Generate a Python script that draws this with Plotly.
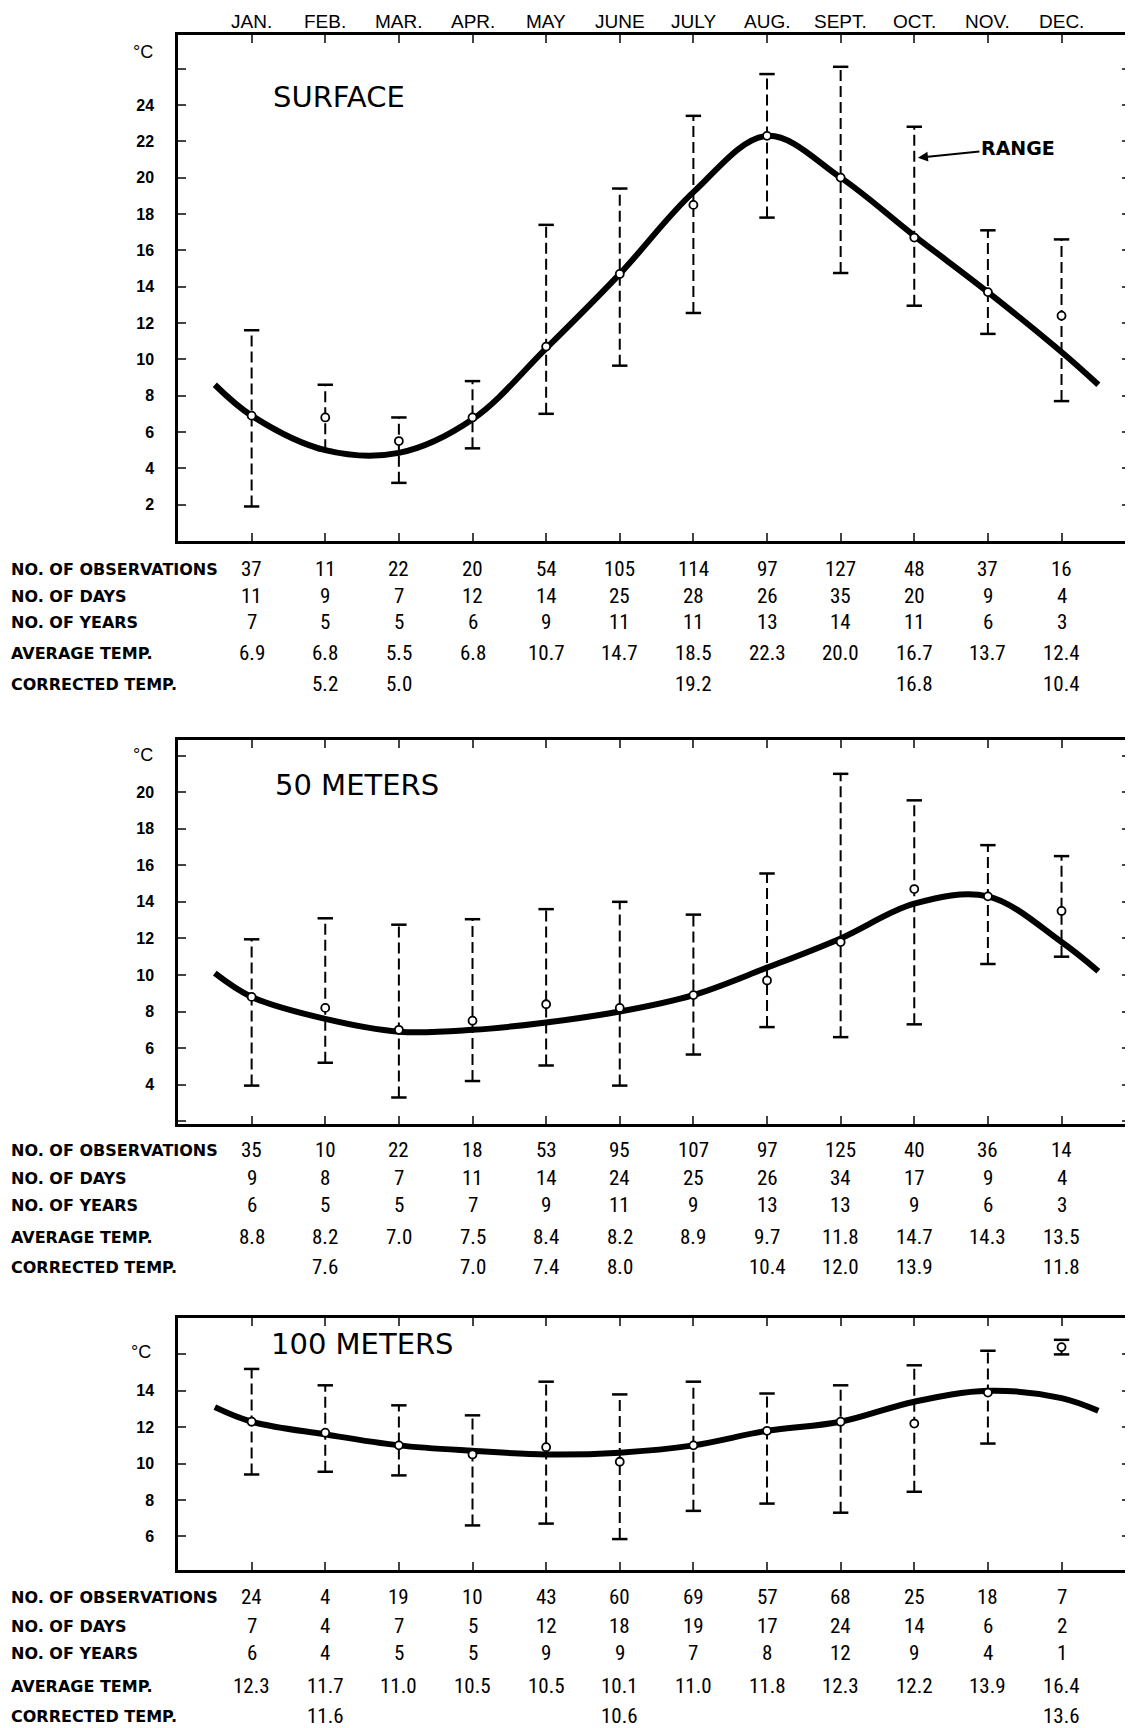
import plotly.graph_objects as go

# Page is 1133x1728; the HTML body adds an 8px margin, so the figure is laid out
# in page pixels and shifted by that margin.
PAGE_W, PAGE_H = 1133, 1728
OFF = 8
W, H = PAGE_W - OFF, PAGE_H - OFF

months = ["JAN.", "FEB.", "MAR.", "APR.", "MAY", "JUNE", "JULY", "AUG.", "SEPT.", "OCT.", "NOV.", "DEC."]
month_pos = [1, 2, 3, 4, 5, 6, 7, 8, 9, 10, 11, 12]
curve_x = [0.5, 1, 2, 3, 4, 5, 6, 7, 8, 9, 10, 11, 12, 12.5]

# ---------------- SURFACE ----------------
surf_mean = [6.9, 6.8, 5.5, 6.8, 10.7, 14.7, 18.5, 22.3, 20.0, 16.7, 13.7, 12.4]
surf_hi = [11.6, 8.6, 6.8, 8.8, 17.4, 19.4, 23.4, 25.7, 26.1, 22.8, 17.1, 16.6]
surf_lo = [1.9, 5.0, 3.2, 5.1, 7.0, 9.65, 12.55, 17.8, 14.75, 12.95, 11.4, 7.7]
surf_curve = [8.6, 6.9, 5.0, 4.85, 6.7, 10.6, 14.7, 19.2, 22.3, 20.0, 16.8, 13.7, 10.4, 8.6]
surf_obs = ["37", "11", "22", "20", "54", "105", "114", "97", "127", "48", "37", "16"]
surf_days = ["11", "9", "7", "12", "14", "25", "28", "26", "35", "20", "9", "4"]
surf_years = ["7", "5", "5", "6", "9", "11", "11", "13", "14", "11", "6", "3"]
surf_avg = ["6.9", "6.8", "5.5", "6.8", "10.7", "14.7", "18.5", "22.3", "20.0", "16.7", "13.7", "12.4"]
surf_corr = ["", "5.2", "5.0", "", "", "", "19.2", "", "", "16.8", "", "10.4"]

# ---------------- 50 METERS ----------------
m50_mean = [8.8, 8.2, 7.0, 7.5, 8.4, 8.2, 8.9, 9.7, 11.8, 14.7, 14.3, 13.5]
m50_hi = [11.95, 13.1, 12.75, 13.05, 13.6, 14.0, 13.3, 15.55, 21.0, 19.55, 17.1, 16.5]
m50_lo = [3.95, 5.2, 3.3, 4.2, 5.05, 3.95, 5.65, 7.15, 6.6, 7.3, 10.6, 11.0]
m50_curve = [10.1, 8.8, 7.6, 6.9, 7.0, 7.4, 8.0, 8.9, 10.4, 12.0, 13.9, 14.3, 11.8, 10.2]
m50_obs = ["35", "10", "22", "18", "53", "95", "107", "97", "125", "40", "36", "14"]
m50_days = ["9", "8", "7", "11", "14", "24", "25", "26", "34", "17", "9", "4"]
m50_years = ["6", "5", "5", "7", "9", "11", "9", "13", "13", "9", "6", "3"]
m50_avg = ["8.8", "8.2", "7.0", "7.5", "8.4", "8.2", "8.9", "9.7", "11.8", "14.7", "14.3", "13.5"]
m50_corr = ["", "7.6", "", "7.0", "7.4", "8.0", "", "10.4", "12.0", "13.9", "", "11.8"]

# ---------------- 100 METERS ----------------
m100_mean = [12.3, 11.7, 11.0, 10.5, 10.9, 10.1, 11.0, 11.8, 12.3, 12.2, 13.9, 16.4]
m100_hi = [15.2, 14.3, 13.2, 12.65, 14.5, 13.8, 14.5, 13.85, 14.3, 15.4, 16.2, 16.8]
m100_lo = [9.4, 9.55, 9.35, 6.6, 6.7, 5.85, 7.4, 7.8, 7.3, 8.45, 11.1, 16.0]
m100_curve = [13.1, 12.3, 11.6, 11.0, 10.7, 10.5, 10.6, 11.0, 11.8, 12.3, 13.4, 14.0, 13.6, 12.9]
m100_obs = ["24", "4", "19", "10", "43", "60", "69", "57", "68", "25", "18", "7"]
m100_days = ["7", "4", "7", "5", "12", "18", "19", "17", "24", "14", "6", "2"]
m100_years = ["6", "4", "5", "5", "9", "9", "7", "8", "12", "9", "4", "1"]
m100_avg = ["12.3", "11.7", "11.0", "10.5", "10.5", "10.1", "11.0", "11.8", "12.3", "12.2", "13.9", "16.4"]
m100_corr = ["", "11.6", "", "", "", "10.6", "", "", "", "", "", "13.6"]

row_labels = ["NO. OF OBSERVATIONS", "NO. OF DAYS", "NO. OF YEARS", "AVERAGE TEMP.", "CORRECTED TEMP."]

# ---------------- layout geometry (page pixels) ----------------
panels = [
    dict(name="SURFACE", mean=surf_mean, hi=surf_hi, lo=surf_lo, curve=surf_curve,
         rows=[surf_obs, surf_days, surf_years, surf_avg, surf_corr],
         box=(35, 541), yrange=[0, 27.85], ticks=[2, 4, 6, 8, 10, 12, 14, 16, 18, 20, 22, 24, 26],
         labels=[2, 4, 6, 8, 10, 12, 14, 16, 18, 20, 22, 24],
         title_px=(271, 97), degc_px=(143, 52),
         row_px=[569, 596, 622, 653, 684]),
    dict(name="50 METERS", mean=m50_mean, hi=m50_hi, lo=m50_lo, curve=m50_curve,
         rows=[m50_obs, m50_days, m50_years, m50_avg, m50_corr],
         box=(740, 1124), yrange=[1.85, 22.85], ticks=[2, 4, 6, 8, 10, 12, 14, 16, 18, 20, 22],
         labels=[4, 6, 8, 10, 12, 14, 16, 18, 20],
         title_px=(273, 785), degc_px=(143, 755),
         row_px=[1150, 1178, 1205, 1237, 1267]),
    dict(name="100 METERS", mean=m100_mean, hi=m100_hi, lo=m100_lo, curve=m100_curve,
         rows=[m100_obs, m100_days, m100_years, m100_avg, m100_corr],
         box=(1318, 1570), yrange=[4.15, 18.0], ticks=[6, 8, 10, 12, 14, 16],
         labels=[6, 8, 10, 12, 14],
         title_px=(269, 1344), degc_px=(141, 1352),
         row_px=[1597, 1626, 1653, 1686, 1716]),
]


def px_x(x):
    return (x - OFF) / W


def px_y(y):
    return 1 - (y - OFF) / H


X0, X1 = px_x(178), px_x(1130)
XRANGE = [0, 12.93]

LBL_FONT = "Liberation Sans, Arial, sans-serif"
WIDE_FONT = "DejaVu Sans, Verdana, sans-serif"
NUM_FONT = "Liberation Sans Narrow, Arial Narrow, Roboto Condensed, Liberation Sans, Arial, sans-serif"

fig = go.Figure()
annotations = []

for i, p in enumerate(panels):
    k = "" if i == 0 else str(i + 1)
    xa, ya = "x" + k, "y" + k

    # dashed range bars
    bx, by = [], []
    for m, lo, hi in zip(month_pos, p["lo"], p["hi"]):
        bx += [m, m, None]
        by += [lo, hi, None]
    fig.add_trace(go.Scatter(x=bx, y=by, mode="lines", xaxis=xa, yaxis=ya,
                             line=dict(color="black", width=2, dash="11px,5px"),
                             hoverinfo="skip", showlegend=False))
    # caps
    fig.add_trace(go.Scatter(x=month_pos + month_pos, y=p["lo"] + p["hi"], mode="markers",
                             xaxis=xa, yaxis=ya,
                             marker=dict(symbol="line-ew", size=11, line=dict(color="black", width=2.5)),
                             hoverinfo="skip", showlegend=False))
    # fitted curve
    fig.add_trace(go.Scatter(x=curve_x, y=p["curve"], mode="lines", xaxis=xa, yaxis=ya,
                             line=dict(color="black", width=6, shape="spline", smoothing=1.0),
                             hoverinfo="skip", showlegend=False))
    # mean points
    fig.add_trace(go.Scatter(x=month_pos, y=p["mean"], mode="markers", xaxis=xa, yaxis=ya,
                             marker=dict(symbol="circle", size=8, color="white",
                                         line=dict(color="black", width=1.8)),
                             hoverinfo="skip", showlegend=False))

    top_px, bot_px = p["box"]
    xaxis = dict(domain=[X0, X1], range=XRANGE, anchor=ya, tickvals=month_pos,
                 ticks="inside", ticklen=8, tickwidth=2, showticklabels=False,
                 showline=True, linewidth=2.5, linecolor="black", mirror="ticks",
                 showgrid=False, zeroline=False, fixedrange=True)
    yaxis = dict(domain=[px_y(bot_px), px_y(top_px)], range=p["yrange"], anchor=xa,
                 tickvals=p["ticks"],
                 ticktext=[str(t) if t in p["labels"] else "" for t in p["ticks"]],
                 ticks="inside", ticklen=8, tickwidth=2,
                 showline=True, linewidth=2.5, linecolor="black", mirror="ticks",
                 showgrid=False, zeroline=False, fixedrange=True,
                 ticklabelstandoff=18,
                 tickfont=dict(family=LBL_FONT, size=16, color="black", weight="bold"))
    fig.update_layout(**{"xaxis" + k: xaxis, "yaxis" + k: yaxis})

    # month names above the top panel
    if i == 0:
        for m, name in zip(month_pos, months):
            annotations.append(dict(text=name, xref=xa, yref="paper", x=m, y=px_y(22),
                                    xanchor="center", yanchor="middle", showarrow=False,
                                    font=dict(family=LBL_FONT, size=19, color="black")))

    # panel title
    tx, ty = p["title_px"]
    annotations.append(dict(text=p["name"], xref="paper", yref="paper", x=px_x(tx), y=px_y(ty),
                            xanchor="left", yanchor="middle", showarrow=False,
                            font=dict(family=WIDE_FONT, size=29, color="black")))
    # degree C
    dx, dy = p["degc_px"]
    annotations.append(dict(text="°C", xref="paper", yref="paper", x=px_x(dx), y=px_y(dy),
                            xanchor="center", yanchor="middle", showarrow=False,
                            font=dict(family=LBL_FONT, size=18, color="black")))
    # table
    for label, vals, rpx in zip(row_labels, p["rows"], p["row_px"]):
        annotations.append(dict(text=label, xref="paper", yref="paper", x=px_x(9), y=px_y(rpx),
                                xanchor="left", yanchor="middle", showarrow=False,
                                font=dict(family=WIDE_FONT, size=16, color="black", weight="bold")))
        for m, v in zip(month_pos, vals):
            if v == "":
                continue
            annotations.append(dict(text=v, xref=xa, yref="paper", x=m, y=px_y(rpx),
                                    xanchor="center", yanchor="middle", showarrow=False,
                                    font=dict(family=NUM_FONT, size=21, color="black")))

# RANGE label with arrow to the October bar
annotations.append(dict(text="RANGE", xref="x", yref="y", x=10.05, y=21.1,
                        ax=100, ay=-10, showarrow=True, arrowhead=2, arrowsize=1,
                        arrowwidth=2, arrowcolor="black",
                        font=dict(family=WIDE_FONT, size=19, color="black", weight="bold")))

fig.update_layout(width=W, height=H, margin=dict(l=0, r=0, t=0, b=0),
                  paper_bgcolor="white", plot_bgcolor="white",
                  showlegend=False, annotations=annotations)

fig.write_html("out.html")
